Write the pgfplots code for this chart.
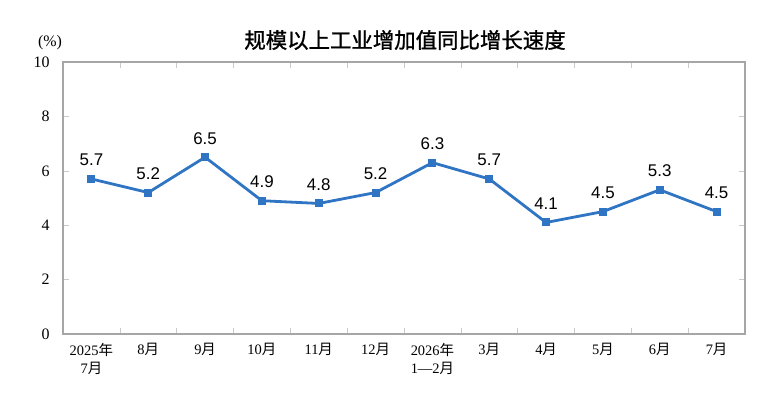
\documentclass[border=0pt]{standalone}
\usepackage{pgfplots}
\pgfplotsset{compat=1.18}
\usepackage{fontspec}
\setmainfont{Liberation Serif}
\newfontfamily\cjk{Noto Sans CJK SC}
\newfontfamily\cjktitle[FakeBold=1.2]{Noto Sans CJK SC}
\newfontfamily\arial{Liberation Sans}
\definecolor{lineblue}{RGB}{47,117,196}
\definecolor{axisgray}{RGB}{166,166,166}
\begin{document}
\begin{tikzpicture}[x=1bp,y=1bp]
\useasboundingbox (-63,-71) rectangle (717,334);
\begin{axis}[
  at={(0,0)}, anchor=south west,
  scale only axis, width=682bp, height=272bp,
  xmin=-0.5, xmax=11.5, ymin=0, ymax=10,
  ytick={0,2,...,10},
  xtick={0,...,11},
  xticklabels={{2025{\cjk 年}\\7{\cjk 月}},{8{\cjk 月}},{9{\cjk 月}},{10{\cjk 月}},{11{\cjk 月}},{12{\cjk 月}},{2026{\cjk 年}\\1—2{\cjk 月}},{3{\cjk 月}},{4{\cjk 月}},{5{\cjk 月}},{6{\cjk 月}},{7{\cjk 月}}},
  minor xtick={0.5,1.5,...,10.5},
  major x tick style={draw=none},
  minor x tick style={draw=axisgray!60, line width=0.6pt},
  major y tick style={draw=axisgray!60, line width=0.6pt},
  major tick length=6bp, minor tick length=6bp,
  tick align=inside,
  axis line style={draw=axisgray, line width=1.6pt},
  /pgf/number format/assume math mode=true,
  yticklabel style={font=\fontsize{16}{18}\selectfont, xshift=-10bp},
  xticklabel style={align=center, font=\fontsize{14.5}{18}\selectfont, yshift=-6bp},
  clip=false,
  nodes near coords,
  every node near coord/.append style={font=\arial\fontsize{17}{19}\selectfont, anchor=center, yshift=19bp, text=black},
  point meta=explicit symbolic,
]
\addplot[color=lineblue, line width=2.8bp, mark=square*, mark size=3.5bp, mark options={fill=lineblue, draw=lineblue, line width=0pt}]
 table[meta=label] {
x y label
0 5.7 5.7
1 5.2 5.2
2 6.5 6.5
3 4.9 4.9
4 4.8 4.8
5 5.2 5.2
6 6.3 6.3
7 5.7 5.7
8 4.1 4.1
9 4.5 4.5
10 5.3 5.3
11 4.5 4.5
};
\end{axis}
\node[font=\fontsize{16}{18}\selectfont] at (-13,291) {(\%)};
\node[font=\cjktitle\fontsize{21.5}{24}\selectfont] at (342,294) {规模以上工业增加值同比增长速度};
\end{tikzpicture}
\end{document}
